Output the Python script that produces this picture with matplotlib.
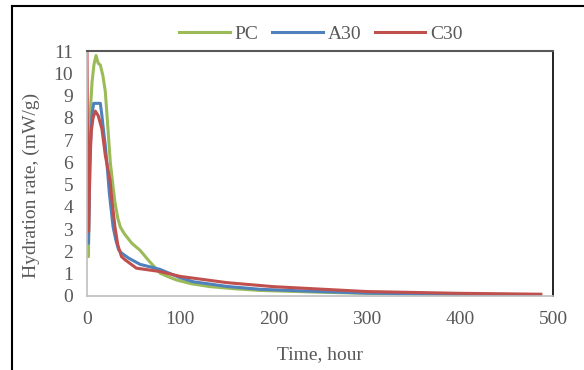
import numpy as np
import matplotlib.pyplot as plt
from matplotlib.lines import Line2D

plt.rcParams['font.family'] = ['Liberation Serif', 'DejaVu Serif']

# PC
pc_t = [0.3, 1.6, 2.5, 4.0, 5.4, 7.5, 9.7, 12, 14.3, 17, 19.6, 22, 25, 28, 30, 33, 35.7, 40, 48, 57, 66, 78.6, 88, 96, 112, 132, 160, 186, 250, 300, 400, 485]
pc = [2.2, 1.77, 6.8, 8.6, 9.6, 10.4, 10.8, 10.45, 10.37, 9.9, 9.2, 7.8, 6.0, 4.9, 4.2, 3.5, 3.1, 2.8, 2.37, 2.05, 1.6, 1.02, 0.85, 0.72, 0.55, 0.42, 0.32, 0.25, 0.17, 0.12, 0.07, 0.05]

# A30
a30_t = [0.3, 1.6, 3.6, 5.5, 7.2, 14.3, 16, 17.8, 19.5, 21.5, 24, 28, 31, 34, 37, 44.7, 57, 78, 100, 114, 150, 186, 250, 300, 400, 485]
a30 = [2.9, 2.37, 6.8, 8.2, 8.65, 8.65, 8.1, 7.4, 6.8, 5.9, 4.6, 3.1, 2.5, 2.07, 1.93, 1.7, 1.42, 1.2, 0.82, 0.64, 0.43, 0.3, 0.2, 0.13, 0.08, 0.06]

# C30
c30_t = [0, 1.0, 1.8, 3.0, 4.6, 6.5, 8.9, 12, 16, 19.7, 22, 24.7, 27, 30, 33, 37, 41, 53, 78, 100, 150, 200, 300, 400, 487]
c30 = [11.0, 3.0, 2.9, 5.8, 7.4, 8.0, 8.3, 8.1, 7.5, 6.3, 5.8, 5.2, 4.2, 3.1, 2.3, 1.77, 1.62, 1.25, 1.1, 0.88, 0.6, 0.42, 0.2, 0.12, 0.08]

txt = '#595959'

fig = plt.figure(figsize=(5.84, 3.70), dpi=100)
ax = fig.add_axes([87/584, 1 - 296/370, (553 - 87)/584, (296 - 51)/370])

ax.plot(pc_t, pc, color='#9BBB59', lw=2.2, label='PC')
ax.plot(a30_t, a30, color='#4F81BD', lw=2.2, label='A30')
ax.plot(c30_t, c30, color='#C0504D', lw=2.2, label='C30')

ax.set_xlim(0, 500)
ax.set_ylim(0, 11)
ax.set_xticks(np.arange(0, 501, 100))
ax.set_yticks(np.arange(0, 12, 1))
ax.tick_params(length=0, labelsize=14, colors=txt)
ax.tick_params(axis='y', pad=10)
ax.tick_params(axis='x', pad=11)

for s in ['left', 'bottom']:
    ax.spines[s].set_color('#BFBFBF')
    ax.spines[s].set_linewidth(1.2)
ax.spines['top'].set_color('#595959')
ax.spines['top'].set_linewidth(1.5)
ax.spines['right'].set_color('black')
ax.spines['right'].set_linewidth(1.2)

ax.set_xlabel('Time, hour', fontsize=14, color=txt)
ax.set_ylabel('Hydration rate, (mW/g)', fontsize=14, color=txt)
ax.xaxis.set_label_coords(0.5, -0.205)
ax.yaxis.set_label_coords(-0.1, 0.45)

fig.legend(loc='center', bbox_to_anchor=(321/584, 1 - 34/370), ncol=3, frameon=False,
           fontsize=14, handlelength=2.6, handletextpad=0.25, columnspacing=0.7,
           labelcolor=txt)

# outer frame (left and top)
fig.add_artist(Line2D([12/584, 12/584], [0, 1 - 6/370], color='black', lw=1.5, transform=fig.transFigure))
fig.add_artist(Line2D([12/584, 1], [1 - 6/370, 1 - 6/370], color='black', lw=1.5, transform=fig.transFigure))

fig.savefig('out.png', dpi=100)
